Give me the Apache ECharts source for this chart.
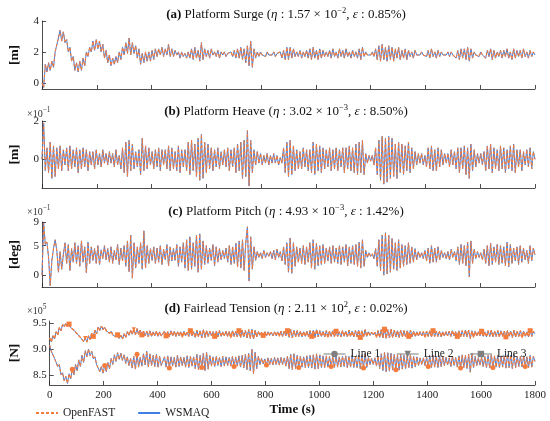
<!DOCTYPE html>
<html>
<head>
<meta charset="utf-8">
<script src="https://cdn.jsdelivr.net/npm/echarts@6/dist/echarts.min.js"></script>
<style>
  html, body { margin: 0; padding: 0; background: #fff; }
  #chart { width: 550px; height: 421px; }
</style>
</head>
<body>
<div id="chart"></div>
<script>
// sample step of the records (s)
var DT = 6;

// (a) platform surge [m]
var surge = [
  0, -0.3, 1.2, 0.7, 1.3, 0.8, 1.4, 1.0, 2.0, 2.1,
  2.9, 3.4, 2.7, 3.3, 2.6, 2.8, 2.0, 2.3, 1.4, 1.7,
  0.8, 1.3, 0.7, 1.4, 0.8, 1.6, 1.1, 2.0, 1.7, 2.3,
  2.0, 2.7, 2.1, 2.8, 2.2, 2.7, 2.0, 2.5, 1.6, 2.1,
  1.3, 1.8, 1.1, 1.6, 1.2, 1.7, 1.3, 2.0, 1.5, 2.3,
  1.8, 2.6, 1.9, 2.9, 1.8, 2.6, 1.9, 2.4, 1.6, 2.2,
  1.2, 1.9, 1.3, 2.0, 1.4, 2.0, 1.4, 2.1, 1.5, 2.2,
  1.7, 2.2, 1.8, 2.3, 1.7, 2.2, 1.8, 2.5, 1.7, 2.2,
  1.7, 2.1, 1.8, 2.0, 1.6, 2.0, 1.7, 1.9, 1.6, 2.0,
  1.6, 2.2, 1.5, 2.3, 1.6, 2.1, 1.4, 2.6, 1.5, 2.2,
  1.7, 2.1, 1.6, 2.2, 1.8, 2.0, 1.7, 2.1, 1.6, 2.0,
  1.8, 2.0, 1.7, 1.9, 1.8, 2.0, 1.7, 2.1, 1.6, 2.2,
  1.6, 2.3, 1.5, 2.2, 1.3, 2.4, 1.1, 2.7, 1.0, 2.2,
  1.6, 2.0, 1.7, 2.0, 1.8, 1.9, 1.7, 2.0, 1.8, 1.9,
  1.8, 2.0, 1.7, 1.9, 1.8, 2.0, 1.6, 2.1, 1.5, 2.3,
  1.5, 2.3, 1.6, 2.2, 1.7, 2.0, 1.7, 2.1, 1.6, 2.0,
  1.7, 2.1, 1.6, 2.2, 1.5, 2.3, 1.6, 2.1, 1.5, 2.2,
  1.6, 2.1, 1.7, 2.0, 1.7, 2.1, 1.6, 2.2, 1.7, 2.0,
  1.6, 2.2, 1.7, 2.1, 1.6, 2.2, 1.7, 2.0, 1.6, 2.1,
  1.7, 2.0, 1.6, 2.2, 1.5, 2.3, 1.7, 2.0, 1.8, 1.9,
  1.8, 2.0, 1.7, 2.2, 1.5, 2.4, 1.4, 2.5, 1.5, 2.3,
  1.4, 2.4, 1.5, 2.3, 1.4, 2.2, 1.6, 2.3, 1.5, 2.1,
  1.6, 2.2, 1.5, 2.1, 1.7, 2.0, 1.6, 2.1, 1.8, 1.9,
  1.8, 2.0, 1.8, 1.9, 1.7, 2.1, 1.6, 2.2, 1.7, 2.0,
  1.6, 2.1, 1.7, 2.0, 1.8, 1.9, 1.8, 2.0, 1.7, 2.0,
  1.8, 1.9, 1.6, 2.1, 1.5, 2.2, 1.6, 2.2, 1.5, 2.3,
  1.4, 2.2, 1.6, 2.0, 1.8, 1.9, 1.7, 2.0, 1.8, 1.9,
  1.6, 2.1, 1.7, 2.2, 1.5, 2.1, 1.6, 2.0, 1.7, 2.1,
  1.6, 2.1, 1.7, 2.2, 1.6, 2.0, 1.5, 2.2, 1.6, 2.1,
  1.7, 2.1, 1.6, 2.2, 1.7, 2.0, 1.6, 2.1, 1.7, 2.0,
  1.8
];

// (b) platform heave [x1e-1 m]
var heave = [
  0, 1.9, -0.6, 0.6, -0.7, 0.9, -1.0, 0.7, -0.9, 0.6,
  -0.5, 0.7, -0.6, 0.5, -0.3, 0.6, -0.6, 0.7, -0.5, 0.5,
  -0.4, 0.6, -0.7, 0.5, -0.5, 0.6, -0.4, 0.5, -0.6, 0.4,
  -0.3, 0.4, -0.5, 0.5, -0.3, 0.3, -0.4, 0.5, -0.2, 0.3,
  -0.3, 0.4, -0.2, 0.3, -0.4, 0.5, -0.3, 0.2, -0.5, 0.6,
  -0.7, 0.9, -0.9, 1.0, -0.6, 0.8, -0.5, 0.4, -0.4, 0.5,
  -0.8, 1.1, -0.6, 0.7, -0.5, 0.6, -0.3, 0.4, -0.5, 0.5,
  -0.4, 0.6, -0.6, 0.5, -0.3, 0.5, -0.5, 0.7, -0.6, 0.6,
  -0.5, 0.4, -0.6, 0.7, -0.7, 0.5, -0.4, 0.5, -0.6, 0.9,
  -0.8, 1.0, -0.6, 0.8, -0.9, 1.1, -1.1, 1.3, -1.0, 0.9,
  -0.7, 0.8, -0.5, 0.6, -0.6, 0.5, -0.4, 0.6, -0.5, 0.4,
  -0.3, 0.5, -0.4, 0.6, -0.6, 0.5, -0.4, 0.6, -0.7, 0.8,
  -0.6, 0.9, -1.0, 1.0, -0.9, 1.5, -1.4, 1.0, -0.7, 0.5,
  -0.3, 0.4, -0.2, 0.3, -0.3, 0.2, -0.2, 0.3, -0.3, 0.2,
  -0.2, 0.3, -0.2, 0.2, -0.3, 0.1, -0.2, 0.6, -0.7, 0.9,
  -0.9, 1.0, -0.8, 0.7, -0.6, 0.5, -0.5, 0.4, -0.5, 0.6,
  -0.4, 0.5, -0.6, 0.5, -0.7, 0.9, -0.8, 0.8, -0.6, 0.7,
  -0.7, 0.6, -0.5, 0.5, -0.4, 0.6, -0.6, 0.5, -0.5, 0.6,
  -0.6, 0.5, -0.4, 0.6, -0.7, 0.6, -0.5, 0.7, -0.6, 0.6,
  -0.7, 0.8, -0.8, 0.9, -0.7, 1.0, -0.8, 0.3, -0.2, 0.2,
  -0.1, 0.2, -0.3, 0.6, -0.8, 1.0, -1.1, 1.2, -1.3, 1.1,
  -1.2, 1.2, -1.0, 1.1, -0.9, 0.8, -1.0, 0.9, -0.7, 0.8,
  -0.8, 0.7, -0.6, 0.9, -0.7, 0.6, -0.5, 0.4, -0.3, 0.3,
  -0.2, 0.3, -0.3, 0.2, -0.4, 0.6, -0.5, 0.7, -0.6, 0.5,
  -0.6, 0.6, -0.4, 0.5, -0.3, 0.3, -0.2, 0.3, -0.4, 0.5,
  -0.3, 0.4, -0.5, 0.6, -0.7, 0.6, -0.5, 0.7, -0.8, 0.6,
  -1.0, 0.8, -0.6, 0.5, -0.4, 0.3, -0.2, 0.3, -0.3, 0.4,
  -0.6, 0.7, -0.5, 0.8, -0.7, 0.6, -0.5, 0.5, -0.6, 0.7,
  -0.5, 0.6, -0.7, 0.5, -0.5, 0.7, -0.6, 0.8, -0.7, 0.5,
  -0.4, 0.5, -0.6, 0.4, -0.3, 0.5, -0.4, 0.6, -0.5, 0.4,
  0.0
];

// (c) platform pitch [x1e-1 deg]
var pitch = [
  0.0, 8.8, 5.2, 5.6, 3.0, -1.8, 2.5, 4.5, 6.0, 4.2,
  0.5, 4.0, 1.0, 3.5, 5.5, 2.0, 5.2, 0.8, 4.5, 2.2,
  5.5, 2.0, 5.0, 1.5, 5.8, 2.2, 4.8, 0.4, 5.6, 2.0,
  4.8, 2.5, 4.5, 2.0, 5.0, 1.8, 4.3, 2.8, 5.0, 2.6,
  4.5, 2.2, 4.8, 2.0, 4.2, 2.6, 5.2, 1.8, 4.6, 2.4,
  5.0, 1.5, 5.8, 0.6, 6.8, -0.5, 5.5, 1.2, 4.8, 2.0,
  5.5, 1.0, 7.5, 1.2, 5.0, 2.0, 4.5, 2.5, 4.8, 2.0,
  4.6, 2.2, 5.0, 1.8, 4.4, 2.6, 5.2, 1.6, 4.8, 2.4,
  4.5, 2.5, 5.2, 1.5, 4.8, 2.2, 5.5, 1.2, 6.0, 0.8,
  6.5, 1.0, 5.5, 1.5, 6.8, 0.5, 7.0, 1.0, 5.8, 1.8,
  5.0, 2.0, 4.6, 2.5, 5.2, 1.6, 4.8, 2.2, 4.5, 2.6,
  4.2, 2.8, 4.6, 2.2, 5.0, 1.8, 4.8, 2.0, 5.4, 1.4,
  5.8, 1.2, 6.0, 0.8, 5.5, 8.2, -1.0, 6.5, 1.0, 4.8,
  2.5, 4.0, 3.0, 3.8, 2.8, 4.2, 3.0, 3.8, 3.2, 4.0,
  2.8, 4.2, 2.6, 4.4, 3.0, 4.0, 2.4, 4.8, 1.8, 5.5,
  0.5, 6.3, 0.3, 5.5, 1.5, 4.8, 2.2, 4.6, 2.0, 5.0,
  1.8, 4.8, 2.2, 5.5, 1.2, 6.0, 1.0, 5.4, 1.6, 5.0,
  1.8, 5.2, 2.0, 4.6, 2.4, 4.8, 2.0, 5.0, 2.2, 4.6,
  2.0, 5.0, 1.8, 4.8, 2.2, 5.2, 1.6, 4.8, 2.0, 5.0,
  1.8, 5.2, 1.5, 5.6, 1.2, 6.0, 1.5, 4.2, 3.0, 3.8,
  3.2, 3.6, 2.8, 4.5, 1.5, 6.0, 0.8, 6.8, 0.0, 7.2,
  0.2, 6.8, 0.5, 6.2, 1.0, 5.5, 0.8, 6.0, 1.2, 5.2,
  1.5, 5.0, 1.8, 5.5, 2.0, 4.8, 2.2, 4.5, 2.6, 4.0,
  3.0, 3.8, 2.8, 4.2, 2.4, 4.6, 2.0, 5.0, 2.2, 4.6,
  2.2, 4.8, 2.6, 4.2, 3.0, 3.8, 2.8, 4.0, 2.6, 4.4,
  3.0, 4.0, 2.4, 4.8, 1.8, 5.2, 2.0, 5.0, 1.6, 5.6,
  -0.3, 5.8, 2.0, 4.4, 2.8, 4.0, 3.0, 3.8, 2.6, 4.4,
  2.0, 5.0, 1.6, 5.4, 1.8, 4.8, 2.2, 5.2, 1.8, 5.0,
  2.0, 4.8, 1.6, 5.6, 1.4, 5.2, 2.0, 4.6, 2.4, 4.8,
  1.8, 5.0, 2.2, 4.6, 2.6, 4.2, 2.0, 5.0, 2.4, 4.6,
  3.4
];

// (d) fairlead tension [x1e5 N], upper band (lines 2 and 3) and lower band (line 1)
var tensionUp = [
  9.22, 9.14, 9.26, 9.20, 9.34, 9.28, 9.42, 9.36, 9.48, 9.44,
  9.50, 9.44, 9.49, 9.42, 9.45, 9.37, 9.39, 9.30, 9.32, 9.23,
  9.24, 9.15, 9.22, 9.14, 9.26, 9.19, 9.31, 9.25, 9.37, 9.30,
  9.43, 9.37, 9.45, 9.38, 9.43, 9.36, 9.39, 9.31, 9.35, 9.28,
  9.31, 9.24, 9.28, 9.21, 9.27, 9.20, 9.30, 9.23, 9.34, 9.27,
  9.37, 9.29, 9.39, 9.28, 9.40, 9.29, 9.37, 9.28, 9.35, 9.26,
  9.35, 9.24, 9.36, 9.25, 9.34, 9.26, 9.35, 9.25, 9.34, 9.26,
  9.25, 9.35, 9.26, 9.34, 9.24, 9.36, 9.26, 9.35, 9.25, 9.34,
  9.26, 9.34, 9.25, 9.35, 9.26, 9.33, 9.25, 9.36, 9.26, 9.34,
  9.23, 9.37, 9.24, 9.36, 9.22, 9.38, 9.23, 9.36, 9.25, 9.35,
  9.26, 9.34, 9.25, 9.35, 9.24, 9.36, 9.25, 9.34, 9.26, 9.35,
  9.25, 9.34, 9.24, 9.36, 9.25, 9.35, 9.24, 9.36, 9.23, 9.37,
  9.24, 9.36, 9.22, 9.38, 9.21, 9.39, 9.20, 9.37, 9.24, 9.34,
  9.27, 9.33, 9.27, 9.34, 9.26, 9.34, 9.27, 9.33, 9.26, 9.34,
  9.26, 9.34, 9.27, 9.35, 9.25, 9.35, 9.26, 9.36, 9.23, 9.38,
  9.22, 9.37, 9.24, 9.36, 9.25, 9.35, 9.24, 9.34, 9.25, 9.35,
  9.24, 9.36, 9.25, 9.37, 9.23, 9.38, 9.24, 9.36, 9.25, 9.35,
  9.24, 9.36, 9.25, 9.35, 9.25, 9.36, 9.24, 9.35, 9.25, 9.34,
  9.24, 9.36, 9.25, 9.35, 9.24, 9.37, 9.25, 9.35, 9.24, 9.36,
  9.24, 9.37, 9.23, 9.36, 9.24, 9.38, 9.25, 9.34, 9.27, 9.33,
  9.28, 9.33, 9.25, 9.36, 9.23, 9.38, 9.22, 9.39, 9.21, 9.38,
  9.22, 9.39, 9.23, 9.37, 9.24, 9.36, 9.23, 9.37, 9.24, 9.36,
  9.24, 9.36, 9.25, 9.37, 9.24, 9.35, 9.25, 9.34, 9.26, 9.34,
  9.26, 9.34, 9.25, 9.35, 9.25, 9.36, 9.24, 9.36, 9.25, 9.35,
  9.25, 9.35, 9.24, 9.34, 9.26, 9.34, 9.26, 9.35, 9.25, 9.36,
  9.26, 9.34, 9.25, 9.36, 9.24, 9.36, 9.25, 9.37, 9.24, 9.37,
  9.21, 9.36, 9.25, 9.35, 9.26, 9.34, 9.26, 9.35, 9.25, 9.34,
  9.24, 9.36, 9.25, 9.37, 9.24, 9.35, 9.25, 9.36, 9.24, 9.36,
  9.25, 9.35, 9.24, 9.36, 9.25, 9.35, 9.23, 9.37, 9.24, 9.35,
  9.25, 9.36, 9.24, 9.35, 9.25, 9.34, 9.24, 9.36, 9.25, 9.35,
  9.30
];
var tensionLow = [
  9.08, 8.96, 8.97, 8.82, 8.84, 8.66, 8.70, 8.50, 8.54, 8.38,
  8.47, 8.33, 8.52, 8.42, 8.61, 8.50, 8.70, 8.58, 8.79, 8.66,
  8.88, 8.74, 8.97, 8.85, 9.00, 8.87, 8.96, 8.81, 8.85, 8.70,
  8.72, 8.56, 8.66, 8.53, 8.68, 8.56, 8.74, 8.62, 8.82, 8.70,
  8.89, 8.76, 8.93, 8.80, 8.92, 8.78, 8.89, 8.72, 8.85, 8.68,
  8.82, 8.63, 8.86, 8.61, 8.90, 8.65, 8.84, 8.67, 8.91, 8.69,
  8.96, 8.65, 8.91, 8.68, 8.88, 8.66, 8.90, 8.65, 8.86, 8.68,
  8.67, 8.85, 8.65, 8.87, 8.63, 8.85, 8.67, 8.84, 8.65, 8.88,
  8.66, 8.85, 8.68, 8.84, 8.65, 8.87, 8.64, 8.86, 8.67, 8.85,
  8.62, 8.90, 8.60, 8.88, 8.64, 8.92, 8.58, 8.94, 8.61, 8.88,
  8.67, 8.85, 8.66, 8.86, 8.68, 8.84, 8.66, 8.86, 8.67, 8.85,
  8.68, 8.84, 8.67, 8.86, 8.66, 8.85, 8.67, 8.87, 8.65, 8.88,
  8.63, 8.90, 8.60, 8.92, 8.58, 9.00, 8.52, 8.94, 8.62, 8.86,
  8.70, 8.82, 8.71, 8.81, 8.69, 8.83, 8.70, 8.82, 8.69, 8.84,
  8.70, 8.83, 8.69, 8.84, 8.70, 8.83, 8.67, 8.86, 8.62, 8.90,
  8.60, 8.91, 8.62, 8.88, 8.64, 8.86, 8.65, 8.85, 8.64, 8.87,
  8.64, 8.88, 8.63, 8.89, 8.61, 8.91, 8.62, 8.89, 8.64, 8.87,
  8.64, 8.87, 8.65, 8.86, 8.66, 8.86, 8.64, 8.87, 8.65, 8.85,
  8.65, 8.86, 8.66, 8.87, 8.64, 8.86, 8.65, 8.88, 8.64, 8.86,
  8.64, 8.88, 8.62, 8.89, 8.63, 8.92, 8.64, 8.84, 8.70, 8.82,
  8.70, 8.83, 8.67, 8.86, 8.62, 8.91, 8.58, 8.94, 8.56, 8.93,
  8.57, 8.92, 8.59, 8.90, 8.60, 8.89, 8.59, 8.90, 8.61, 8.88,
  8.62, 8.88, 8.64, 8.89, 8.63, 8.86, 8.65, 8.85, 8.68, 8.83,
  8.70, 8.83, 8.68, 8.84, 8.66, 8.87, 8.64, 8.88, 8.65, 8.86,
  8.64, 8.87, 8.66, 8.86, 8.68, 8.84, 8.69, 8.83, 8.66, 8.86,
  8.68, 8.84, 8.65, 8.87, 8.63, 8.89, 8.64, 8.88, 8.62, 8.90,
  8.55, 8.92, 8.64, 8.86, 8.68, 8.83, 8.69, 8.84, 8.66, 8.86,
  8.64, 8.88, 8.63, 8.89, 8.64, 8.87, 8.65, 8.88, 8.64, 8.87,
  8.65, 8.87, 8.63, 8.89, 8.64, 8.88, 8.62, 8.90, 8.64, 8.86,
  8.66, 8.86, 8.65, 8.87, 8.66, 8.85, 8.64, 8.88, 8.65, 8.86,
  8.76
];

// tick labels
var yTicksA = [0, 2, 4];
var yTicksB = [0, 2];
var yTicksC = [0, 5, 9];
var yTicksD = [8.5, 9.0, 9.5];

var titles = [
  "{b|(a)} Platform Surge ({i|η} : 1.57 × 10{s|−2}, {i|ε} : 0.85%)",
  "{b|(b)} Platform Heave ({i|η} : 3.02 × 10{s|−3}, {i|ε} : 8.50%)",
  "{b|(c)} Platform Pitch ({i|η} : 4.93 × 10{s|−3}, {i|ε} : 1.42%)",
  "{b|(d)} Fairlead Tension ({i|η} : 2.11 × 10{s|2}, {i|ε} : 0.02%)"
];
var yNames = ["[m]", "[m]", "[deg]", "[N]"];

var ORANGE = "#F47C3C";
var BLUE = "#3E7FE3";
var FONT = "Liberation Serif";

function toXY(arr) {
  return arr.map(function (v, i) { return [i * DT, v]; });
}

window.onload = function () {
  var chart = echarts.init(document.getElementById("chart"));

  var grids = [
    { left: 36, right: 15, top: 21, height: 68 },
    { left: 36, right: 15, top: 121, height: 67 },
    { left: 36, right: 15, top: 222, height: 65 },
    { left: 36, right: 15, top: 321, height: 64 },
  ];
  var yRanges = [[-0.4, 4], [-1.5, 2], [-2, 9], [8.3, 9.55]];
  var yTicks = [yTicksA, yTicksB, yTicksC, yTicksD];
  var titleY = [14, 111, 211, 308];

  var xAxes = grids.map(function (g, k) {
    return {
      type: "value",
      gridIndex: k,
      min: 0,
      max: 1800,
      interval: 200,
      axisLine: { onZero: false, lineStyle: { color: "#222", width: 0.8 } },
      axisTick: { inside: true, length: 4, lineStyle: { color: "#222", width: 0.8 } },
      axisLabel: {
        show: k === 3, margin: 5, color: "#222", fontFamily: FONT, fontSize: 11,
        formatter: function (v) { return String(v); },
      },
      splitLine: { show: false },
      name: k === 3 ? "Time (s)" : "",
      nameLocation: "middle",
      nameGap: 18,
      nameTextStyle: { fontFamily: FONT, fontWeight: "bold", fontSize: 13, color: "#111" },
    };
  });

  var yAxes = grids.map(function (g, k) {
    return {
      type: "value",
      gridIndex: k,
      min: yRanges[k][0],
      max: yRanges[k][1],
      axisLine: { show: true, onZero: false, lineStyle: { color: "#222", width: 0.8 } },
      axisTick: { show: true, inside: true, length: 4, customValues: yTicks[k], lineStyle: { color: "#222", width: 0.8 } },
      axisLabel: {
        customValues: yTicks[k],
        margin: 3,
        color: "#222",
        fontFamily: FONT,
        fontSize: 11,
        formatter: function (v) { return k === 3 ? v.toFixed(1) : String(v); },
      },
      splitLine: { show: false },
      name: yNames[k],
      nameLocation: "middle",
      nameGap: 20,
      nameRotate: 90,
      nameTextStyle: { fontFamily: FONT, fontWeight: "bold", fontSize: 13.5, color: "#111" },
    };
  });

  function blue(k, arr) {
    return {
      name: "WSMAQ", type: "line", xAxisIndex: k, yAxisIndex: k,
      data: toXY(arr), symbol: "none",
      lineStyle: { color: BLUE, width: 1 }, itemStyle: { color: BLUE },
    };
  }
  function orange(k, arr, name, sym, every, off, size, rot) {
    var s = {
      name: name, type: "line", xAxisIndex: k, yAxisIndex: k,
      data: toXY(arr),
      lineStyle: { color: ORANGE, width: 1.1, type: [3, 2] }, itemStyle: { color: ORANGE },
      symbol: "none",
    };
    if (sym) {
      s.symbol = sym;
      s.symbolRotate = rot || 0;
      s.showSymbol = true;
      s.showAllSymbol = true;
      s.symbolSize = function (v, p) { return p.dataIndex % every === off ? size : 0; };
    }
    return s;
  }

  var series = [
    blue(0, surge), orange(0, surge, "OpenFAST"),
    blue(1, heave), orange(1, heave, "OpenFAST"),
    blue(2, pitch), orange(2, pitch, "OpenFAST"),
    blue(3, tensionUp), blue(3, tensionLow),
    orange(3, tensionLow, "Line 1", "circle", 20, 14, 5),
    orange(3, tensionUp, "Line 2", "triangle", 30, 22, 4, 180),
    orange(3, tensionUp, "Line 3", "rect", 15, 12, 5),
  ];

  var graphics = titles.map(function (t, k) {
    return {
      type: "text", x: 286, y: titleY[k] + 1,
      style: {
        text: t, align: "center", verticalAlign: "middle",
        fontFamily: FONT, fontSize: 13, fill: "#111",
        rich: {
          b: { fontFamily: FONT, fontSize: 13, fontWeight: "bold", fill: "#111" },
          i: { fontFamily: FONT, fontSize: 13, fontStyle: "italic", fill: "#111" },
          s: { fontFamily: FONT, fontSize: 8.5, padding: [0, 0, 9, 0], fill: "#111" },
        },
      },
    };
  });
  [[113, "×10{s|−1}"], [211, "×10{s|−1}"], [310, "×10{s|5}"]].forEach(function (e) {
    graphics.push({
      type: "text", x: 27, y: e[0] + 1,
      style: {
        text: e[1], verticalAlign: "middle", fontFamily: FONT, fontSize: 10, fill: "#333",
        rich: { s: { fontFamily: FONT, fontSize: 7.5, padding: [0, 0, 7, 0], fill: "#333" } },
      },
    });
  });

  var gray = "#7f7f7f";
  chart.setOption({
    animation: false,
    backgroundColor: "#fff",
    grid: grids,
    xAxis: xAxes,
    yAxis: yAxes,
    legend: [
      {
        data: ["OpenFAST", "WSMAQ"].map(function (n) {
          return { name: n, itemStyle: { opacity: 0 } };
        }),
        left: 30, top: 402,
        itemWidth: 22, itemHeight: 10, itemGap: 22,
        textStyle: { fontFamily: FONT, fontSize: 11.5, color: "#222" },
      },
      {
        data: ["Line 1", "Line 2", "Line 3"].map(function (n) {
          return { name: n, itemStyle: { color: gray }, lineStyle: { color: gray, type: "solid", width: 1 } };
        }),
        left: 318, top: 343,
        itemWidth: 22, itemHeight: 8, itemGap: 16,
        textStyle: { fontFamily: FONT, fontSize: 11.5, color: "#222" },
      },
    ],
    graphic: graphics,
    series: series,
  });
};
</script>
</body>
</html>
